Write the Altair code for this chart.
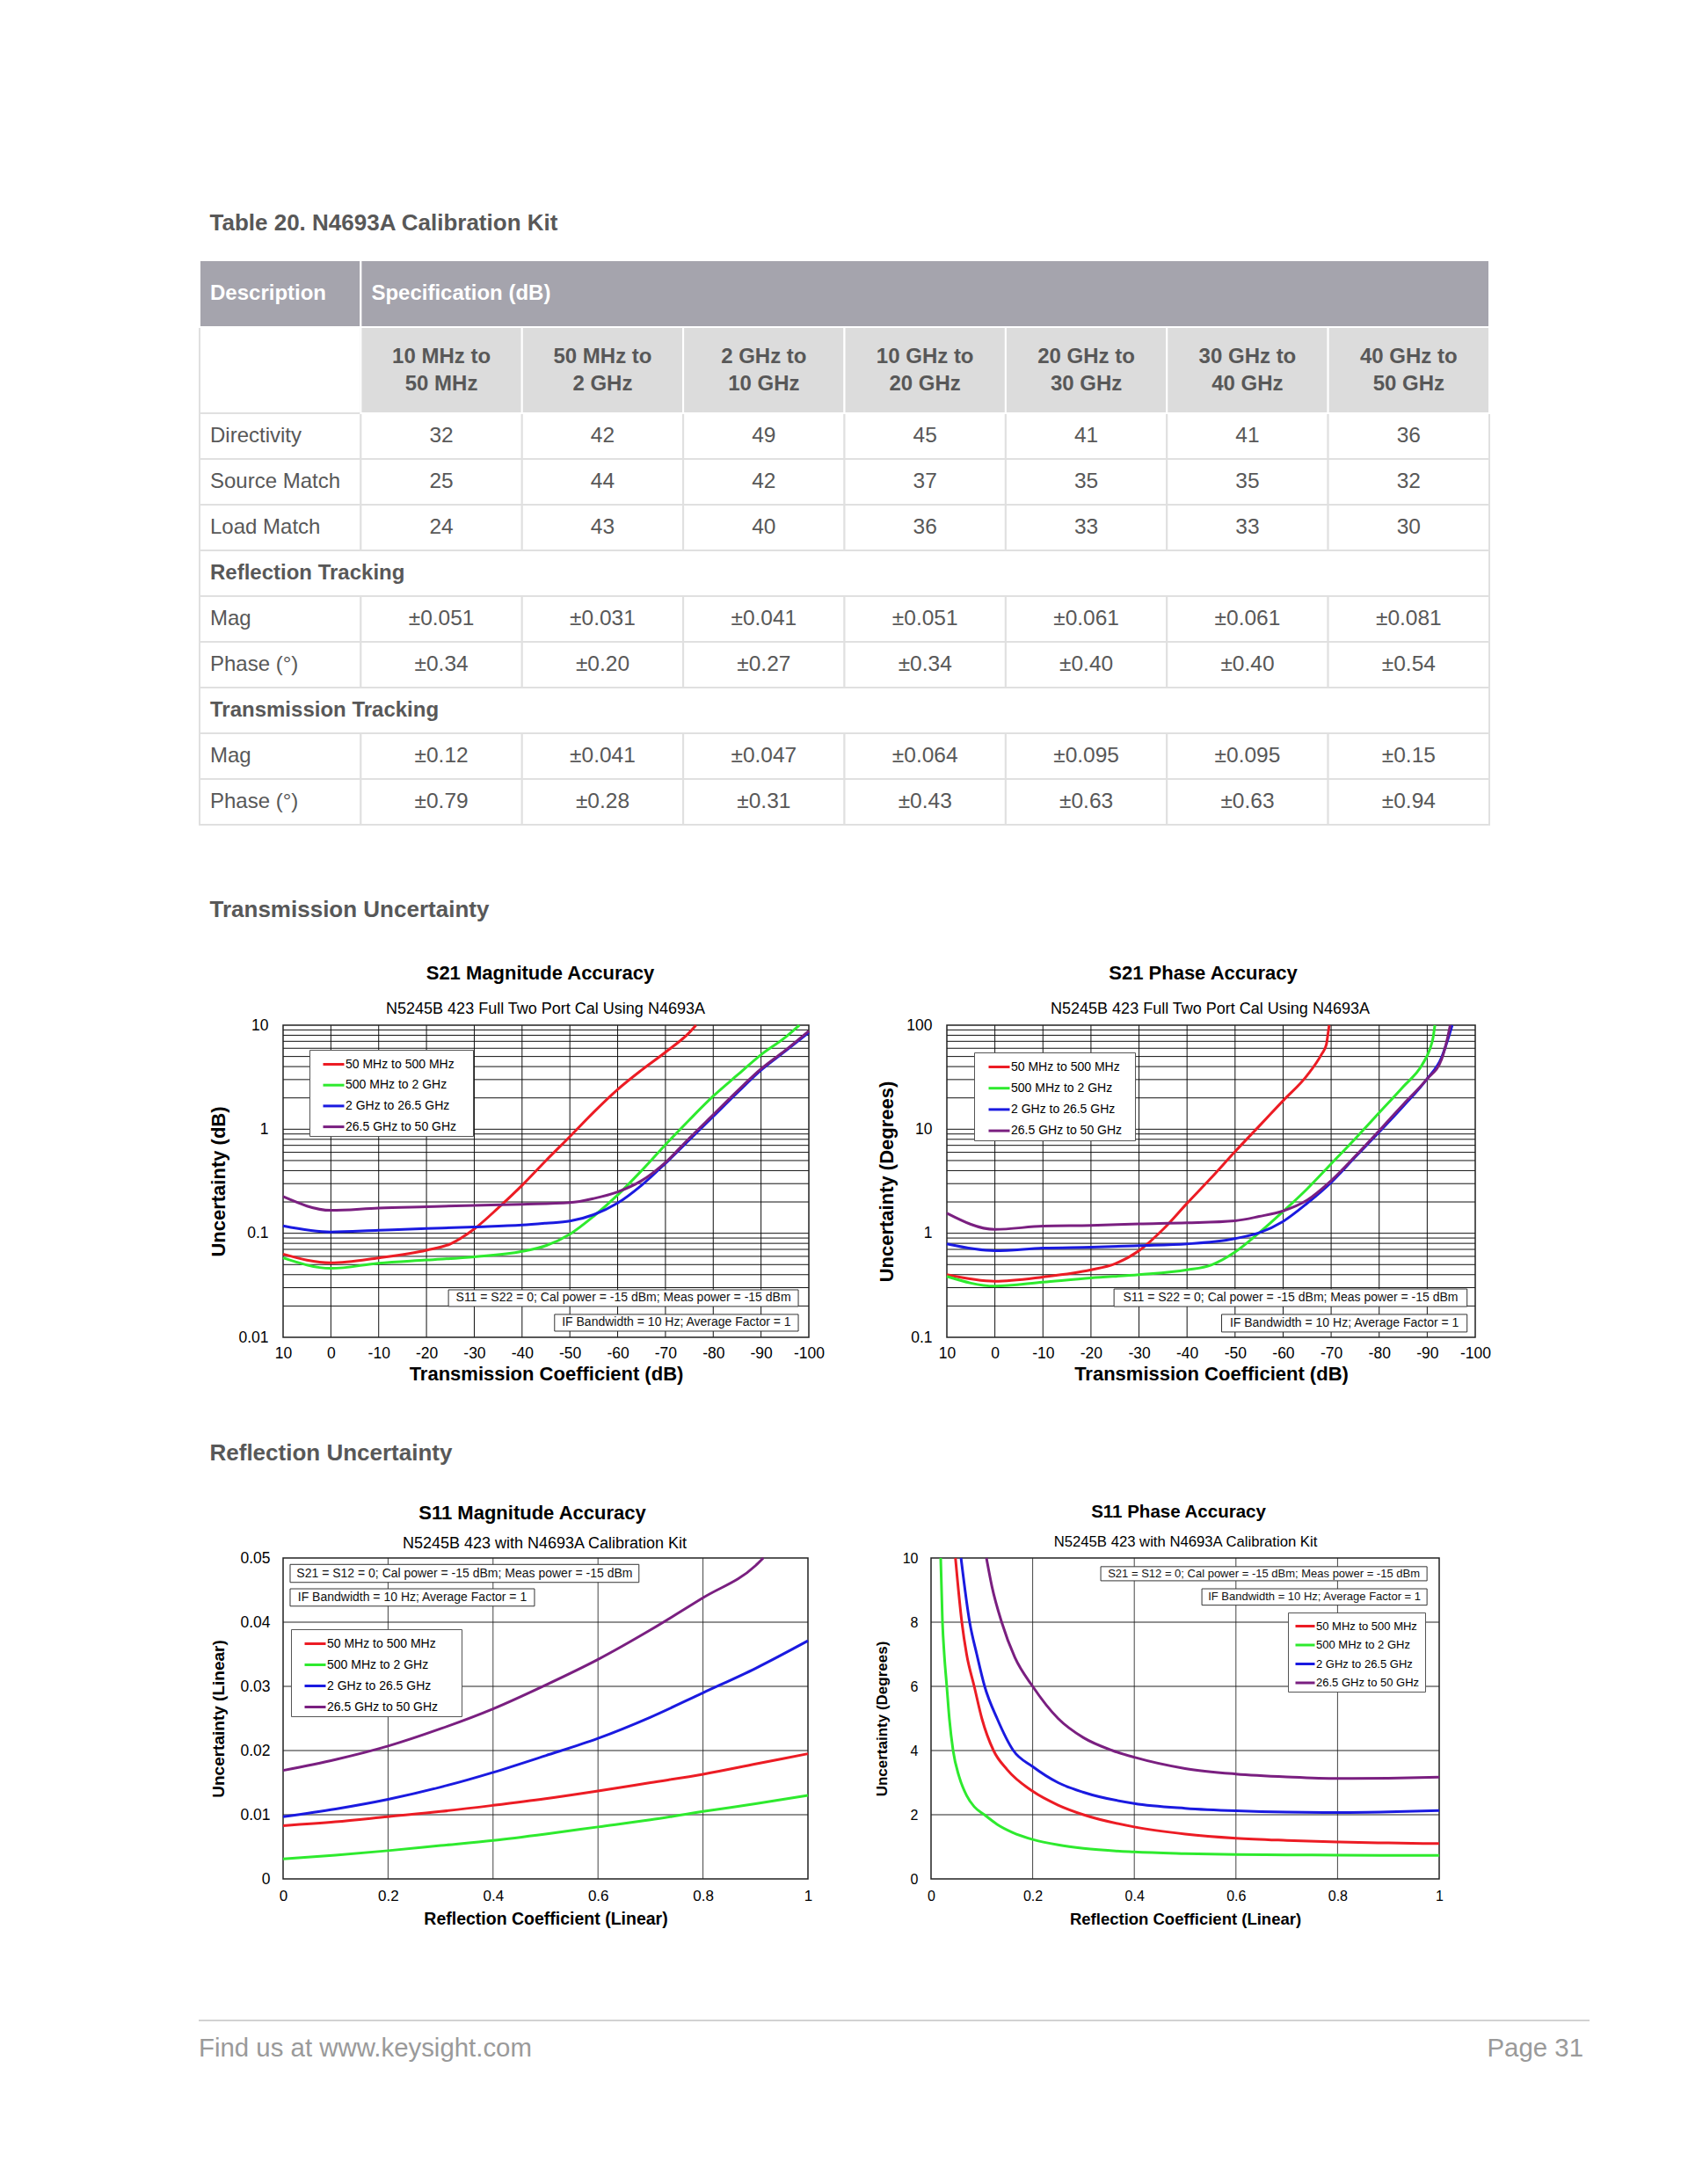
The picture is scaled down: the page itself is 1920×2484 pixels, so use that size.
import math
import altair as alt
import pandas as pd

W, H = 1904, 2468
M = 8


def px(v):
    return v - M


SANS = "Liberation Sans, Arial, Helvetica, sans-serif"
GREY_TXT = "#585858"

# ---------------------------------------------------------------- table data
table_title = "Table 20. N4693A Calibration Kit"
head_labels = ["Description", "Specification (dB)"]
band_labels = ["10 MHz to\n50 MHz", "50 MHz to\n2 GHz", "2 GHz to\n10 GHz", "10 GHz to\n20 GHz",
               "20 GHz to\n30 GHz", "30 GHz to\n40 GHz", "40 GHz to\n50 GHz"]
row_labels = ["Directivity", "Source Match", "Load Match", "Reflection Tracking", "Mag", "Phase (°)",
              "Transmission Tracking", "Mag", "Phase (°)"]
section_rows = ["Reflection Tracking", "Transmission Tracking"]
directivity = ["32", "42", "49", "45", "41", "41", "36"]
source_match = ["25", "44", "42", "37", "35", "35", "32"]
load_match = ["24", "43", "40", "36", "33", "33", "30"]
refl_mag = ["±0.051", "±0.031", "±0.041", "±0.051", "±0.061", "±0.061", "±0.081"]
refl_phase = ["±0.34", "±0.20", "±0.27", "±0.34", "±0.40", "±0.40", "±0.54"]
trans_mag = ["±0.12", "±0.041", "±0.047", "±0.064", "±0.095", "±0.095", "±0.15"]
trans_phase = ["±0.79", "±0.28", "±0.31", "±0.43", "±0.63", "±0.63", "±0.94"]
row_values = [directivity, source_match, load_match, None, refl_mag, refl_phase, None, trans_mag, trans_phase]

# ---------------------------------------------------------------- chart data
SERIES = ["50 MHz to 500 MHz", "500 MHz to 2 GHz", "2 GHz to 26.5 GHz", "26.5 GHz to 50 GHz"]
COLORS = ["#ec1c24", "#2eea2e", "#1a1ae0", "#7a1f80"]

# S21 magnitude accuracy (x: dB, y: dB uncertainty)
s21m_red_x = [10, 0, -10, -20, -25, -30, -35, -40, -45, -50, -55, -60, -65, -70, -75, -76.4]
s21m_red_y = [0.063, 0.052, 0.058, 0.0686, 0.079, 0.11, 0.175, 0.289, 0.50, 0.85, 1.46, 2.41, 3.7, 5.5, 8.5, 10]
s21m_grn_x = [10, 0, -10, -20, -30, -40, -45, -50, -55, -60, -65, -70, -75, -80, -85, -90, -95, -98]
s21m_grn_y = [0.058, 0.046, 0.0515, 0.0553, 0.0594, 0.067, 0.076, 0.098, 0.146, 0.233, 0.40, 0.71, 1.23,
              2.08, 3.3, 5.2, 7.6, 10]
s21m_blu_x = [10, 0, -10, -20, -30, -40, -45, -50, -55, -60, -65, -70, -75, -80, -85, -90, -95, -100]
s21m_blu_y = [0.118, 0.103, 0.107, 0.111, 0.115, 0.120, 0.125, 0.131, 0.151, 0.195, 0.289, 0.47, 0.79,
              1.33, 2.24, 3.7, 5.6, 8.5]
s21m_pur_x = [10, 0, -10, -20, -30, -40, -50, -55, -60, -65, -70, -75, -80, -85, -90, -95, -100]
s21m_pur_y = [0.225, 0.166, 0.175, 0.18, 0.185, 0.19, 0.197, 0.216, 0.25, 0.32, 0.48, 0.82, 1.38, 2.32,
              3.8, 5.7, 8.8]

# S21 phase accuracy (x: dB, y: degrees)
s21p_red_x = [10, 0, -10, -20, -25, -30, -35, -40, -45, -50, -55, -60, -65, -68, -69, -69.3, -69.6]
s21p_red_y = [0.40, 0.346, 0.38, 0.445, 0.51, 0.68, 1.09, 1.94, 3.4, 6.1, 10.7, 18.8, 32.9, 52.5, 65, 80, 100]
s21p_grn_x = [10, 0, -10, -20, -30, -40, -45, -50, -55, -60, -65, -70, -75, -80, -85, -89, -90.5, -91.2, -91.6]
s21p_grn_y = [0.385, 0.31, 0.339, 0.372, 0.40, 0.445, 0.495, 0.66, 1.01, 1.62, 2.67, 4.65, 8.1, 14.4,
              25.6, 42, 58, 75, 100]
s21p_blu_x = [10, 0, -10, -20, -30, -40, -50, -55, -60, -65, -70, -75, -80, -85, -90, -93, -94.5, -95.2]
s21p_blu_y = [0.79, 0.68, 0.72, 0.735, 0.76, 0.79, 0.89, 1.01, 1.30, 1.94, 3.08, 5.4, 9.4, 16.6, 30.6,
              49, 78, 100]
s21p_pur_x = [10, 0, -10, -20, -30, -40, -50, -55, -60, -65, -70, -75, -80, -85, -90, -93, -94.3, -94.8]
s21p_pur_y = [1.56, 1.09, 1.17, 1.19, 1.23, 1.26, 1.32, 1.45, 1.64, 2.08, 3.2, 5.5, 9.7, 17.3, 30.6, 47,
              78, 100]

# S11 magnitude accuracy (x: linear reflection coefficient, y: linear uncertainty)
s11m_x = [0, 0.1, 0.2, 0.3, 0.4, 0.5, 0.6, 0.7, 0.8, 0.9, 1.0]
s11m_red_y = [0.0083, 0.0089, 0.0097, 0.0105, 0.01146, 0.0125, 0.0137, 0.0150, 0.0163, 0.0179, 0.0195]
s11m_grn_y = [0.0031, 0.0037, 0.0044, 0.0052, 0.0060, 0.0070, 0.0081, 0.0092, 0.0105, 0.0117, 0.0130]
s11m_blu_y = [0.0097, 0.0109, 0.0124, 0.0143, 0.0166, 0.0192, 0.0219, 0.0252, 0.0290, 0.0328, 0.0371]
s11m_pur_x = [0, 0.1, 0.2, 0.3, 0.4, 0.5, 0.6, 0.7, 0.8, 0.9, 0.915]
s11m_pur_y = [0.0169, 0.0186, 0.0207, 0.0234, 0.0265, 0.0302, 0.0342, 0.0388, 0.0438, 0.0488, 0.05]

# S11 phase accuracy (x: linear reflection coefficient, y: degrees)
s11p_red_x = [0.048, 0.0606, 0.07, 0.085, 0.1, 0.123, 0.15, 0.2, 0.25, 0.3, 0.4, 0.5, 0.6, 0.7, 0.8, 0.9, 1.0]
s11p_red_y = [10, 8, 7, 6, 5.0, 4, 3.4, 2.73, 2.3, 2.0, 1.62, 1.4, 1.27, 1.2, 1.15, 1.12, 1.10]
s11p_grn_x = [0.019, 0.0225, 0.026, 0.031, 0.036, 0.0434, 0.055, 0.07, 0.085, 0.105, 0.13, 0.16, 0.2, 0.25,
              0.3, 0.4, 0.5, 0.6, 0.7, 0.8, 0.9, 1.0]
s11p_grn_y = [10, 8, 7, 6, 5, 4, 3.2, 2.6, 2.25, 2.0, 1.7, 1.45, 1.23, 1.06, 0.95, 0.84, 0.79, 0.76, 0.75,
              0.74, 0.73, 0.73]
s11p_blu_x = [0.059, 0.076, 0.09, 0.1055, 0.13, 0.162, 0.2, 0.25, 0.3, 0.4, 0.5, 0.6, 0.7, 0.8, 0.9, 1.0]
s11p_blu_y = [10, 8, 7, 6, 5, 4, 3.5, 3.0, 2.7, 2.35, 2.2, 2.12, 2.08, 2.07, 2.09, 2.13]
s11p_pur_x = [0.109, 0.12, 0.139, 0.165, 0.2, 0.25, 0.3, 0.357, 0.4, 0.5, 0.6, 0.7, 0.8, 0.9, 1.0]
s11p_pur_y = [10, 9.1, 8, 6.9, 6, 5.0, 4.4, 4.0, 3.79, 3.44, 3.27, 3.18, 3.13, 3.14, 3.17]

S21_NOTE1 = "S11 = S22 = 0; Cal power = -15 dBm; Meas power = -15 dBm"
S11_NOTE1 = "S21 = S12 = 0; Cal power = -15 dBm; Meas power = -15 dBm"
NOTE2 = "IF Bandwidth = 10 Hz; Average Factor = 1"

s21_xticks = [10, 0, -10, -20, -30, -40, -50, -60, -70, -80, -90, -100]
s21_vgrid = [0, -10, -20, -30, -40, -50, -60, -70, -80, -90]
s21m_yticks = [0.01, 0.1, 1, 10]
s21m_hgrid = [0.02, 0.03, 0.04, 0.05, 0.06, 0.07, 0.08, 0.09, 0.1, 0.2, 0.3, 0.4, 0.5, 0.6, 0.7, 0.8, 0.9,
              1, 2, 3, 4, 5, 6, 7, 8, 9]
s21p_yticks = [0.1, 1, 10, 100]
s21p_hgrid = [0.2, 0.3, 0.4, 0.5, 0.6, 0.7, 0.8, 0.9, 1, 2, 3, 4, 5, 6, 7, 8, 9, 10, 20, 30, 40, 50, 60,
              70, 80, 90]
s11_xticks = [0, 0.2, 0.4, 0.6, 0.8, 1]
s11_vgrid = [0.2, 0.4, 0.6, 0.8]
s11m_yticks = [0, 0.01, 0.02, 0.03, 0.04, 0.05]
s11m_hgrid = [0.01, 0.02, 0.03, 0.04]
s11p_yticks = [0, 2, 4, 6, 8, 10]
s11p_hgrid = [2, 4, 6, 8]


def lines_df(xs_list, ys_list):
    rows = []
    for name, xs_, ys_ in zip(SERIES, xs_list, ys_list):
        for a, b in zip(xs_, ys_):
            rows.append({"series": name, "x": a, "y": b})
    return pd.DataFrame(rows)


def text_axis(text, y, size, weight="normal", color="#000000", font=SANS, x=None, align="center"):
    kw = dict(orient="top", offset=0, labels=False, ticks=False, domain=False, grid=False,
              title=text, titleFont=font, titleFontSize=size, titleFontWeight=weight,
              titleColor=color, titleY=px(y), titleBaseline="middle", titleAlign=align, titlePadding=0)
    if x is not None:
        kw["titleX"] = px(x)
    return alt.Axis(**kw)


def panel(p):
    xs = alt.Scale(type=p["xtype"], domain=p["xdom"], range=[px(p["left"]), px(p["right"])],
                   nice=False, zero=False)
    ys = alt.Scale(type=p["ytype"], domain=p["ydom"], range=[px(p["bottom"]), px(p["top"])],
                   nice=False, zero=False)
    bottom_axis = alt.Axis(
        orient="bottom", offset=px(p["bottom"]) - H, values=p["xticks"], labelExpr="toString(datum.value)",
        grid=False, ticks=False, tickSize=0, domain=False, labelFlush=False, labelOverlap=False,
        labelFont=SANS, labelFontSize=p["lab"], labelColor="#000000", labelPadding=p["xlp"],
        title=p["xtitle"], titleFont=SANS, titleFontSize=p["tit"], titleFontWeight="bold",
        titleColor="#000000", titlePadding=p["xtp"])
    left_axis = alt.Axis(
        orient="left", offset=-px(p["left"]), values=p["yticks"], labelExpr="toString(datum.value)",
        grid=False, ticks=False, tickSize=0, domain=False, labelFlush=False, labelOverlap=False,
        labelFont=SANS, labelFontSize=p["ylab"], labelColor="#000000", labelPadding=p["ylp"],
        title=p["ytitle"], titleFont=SANS, titleFontSize=p["ytit"], titleFontWeight="bold",
        titleColor="#000000", titlePadding=p["ytp"])

    vg = pd.DataFrame({"x": p["vgrid"]})
    vg["y0"] = p["ydom"][0]
    vg["y1"] = p["ydom"][1]
    vgrid = alt.Chart(vg).mark_rule(color=p["vcolor"], strokeWidth=1).encode(
        x=alt.X("x:Q", scale=xs, axis=bottom_axis),
        y=alt.Y("y0:Q", scale=ys, axis=None),
        y2=alt.Y2("y1"))

    hg = pd.DataFrame({"y": p["hgrid"]})
    hg["x0"] = p["xdom"][0]
    hg["x1"] = p["xdom"][1]
    hgrid = alt.Chart(hg).mark_rule(color=p["hcolor"], strokeWidth=1).encode(
        y=alt.Y("y:Q", scale=ys, axis=left_axis),
        x=alt.X("x0:Q", scale=xs, axis=text_axis(p["title"], p["title_y"], p["title_size"], "bold",
                                                  x=p["title_x"])),
        x2=alt.X2("x1"))

    bd = pd.DataFrame({"x0": [p["xdom"][0]], "x1": [p["xdom"][1]],
                       "y0": [p["ydom"][0]], "y1": [p["ydom"][1]]})
    border = alt.Chart(bd).mark_rect(fillOpacity=0, stroke="#222222", strokeWidth=1.5).encode(
        x=alt.X("x0:Q", scale=xs, axis=text_axis(p["subtitle"], p["subtitle_y"], p["subtitle_size"],
                                                  x=p["subtitle_x"])),
        x2=alt.X2("x1"),
        y=alt.Y("y0:Q", scale=ys, axis=None),
        y2=alt.Y2("y1"))

    ann = pd.DataFrame(p["notes"], columns=["t", "x0", "x1", "y0", "y1"])
    ann["xc"] = (ann["x0"] + ann["x1"]) / 2
    if p["ytype"] == "log":
        ann["yc"] = [math.sqrt(a * b) for a, b in zip(ann["y0"], ann["y1"])]
    else:
        ann["yc"] = (ann["y0"] + ann["y1"]) / 2
    ann_rect = alt.Chart(ann).mark_rect(fill="white", stroke="#333333", strokeWidth=1).encode(
        x=alt.X("x0:Q", scale=xs, axis=None), x2=alt.X2("x1"),
        y=alt.Y("y0:Q", scale=ys, axis=None), y2=alt.Y2("y1"))
    ann_text = alt.Chart(ann).mark_text(font=SANS, fontSize=p["note_size"], color="#111111",
                                        align="center", baseline="middle").encode(
        x=alt.X("xc:Q", scale=xs, axis=None), y=alt.Y("yc:Q", scale=ys, axis=None), text="t:N")

    # trailing no-break spaces (closed by a zero-width space so they survive trimming) widen the box
    pad = "\u00a0" * p["lnb"] + "\u200b"
    legend = alt.Legend(orient="none", legendX=px(p["lx"]), legendY=px(p["ly"]), title=None,
                        symbolType="stroke", symbolStrokeWidth=3, symbolSize=p["lsym"],
                        symbolOffset=p["loff"], labelOffset=0, padding=3,
                        labelFont=SANS, labelFontSize=p["lfs"], labelColor="#000000", labelLimit=400,
                        labelExpr="datum.label + '" + pad + "'",
                        rowPadding=p["lrow"], strokeColor="#555555", fillColor="white")
    if p.get("heading"):
        head_axis = text_axis(p["heading"], p["heading_y"], 26, "bold", GREY_TXT, SANS,
                              x=238, align="left")
    else:
        head_axis = None
    lines = alt.Chart(lines_df(p["sx"], p["sy"])).mark_line(strokeWidth=3, interpolate="monotone").encode(
        x=alt.X("x:Q", scale=xs, axis=head_axis),
        y=alt.Y("y:Q", scale=ys, axis=None),
        color=alt.Color("series:N", scale=alt.Scale(domain=SERIES, range=COLORS), legend=legend))
    return [vgrid, hgrid, border, lines, ann_rect, ann_text]


s21_common = dict(xtype="linear", xdom=[10, -100], ytype="log", xticks=s21_xticks, vgrid=s21_vgrid,
                  vcolor="#111111", hcolor="#111111", xtitle="Transmission Coefficient (dB)",
                  lab=17.5, ylab=17.5, tit=22, ytit=22, xlp=9, xtp=5, ylp=17, ytp=10, title_y=1106,
                  subtitle_y=1147, title_size=22, subtitle_size=18, top=1166, bottom=1521, note_size=14,
                  lsym=576, lfs=14, lrow=2.7)
s11_common = dict(xtype="linear", xdom=[0, 1], ytype="linear", xticks=s11_xticks, vgrid=s11_vgrid,
                  vcolor="#444444", hcolor="#222222", xtitle="Reflection Coefficient (Linear)",
                  xlp=11, xtp=9, ylp=15, ytp=14, top=1772, bottom=2137)

p_s21m = dict(s21_common, left=322, right=920, ydom=[0.01, 10], yticks=s21m_yticks, hgrid=s21m_hgrid,
              ytitle="Uncertainty (dB)", title="S21 Magnitude Accuracy", title_x=614, subtitle_x=620,
              subtitle="N5245B 423 Full Two Port Cal Using N4693A",
              sx=[s21m_red_x, s21m_grn_x, s21m_blu_x, s21m_pur_x],
              sy=[s21m_red_y, s21m_grn_y, s21m_blu_y, s21m_pur_y],
              notes=[(S21_NOTE1, -24.6, -97.8, 0.0198, 0.0286), (NOTE2, -46.8, -97.8, 0.01146, 0.0166)],
              lx=352, ly=1194, loff=11, lnb=4, heading="Transmission Uncertainty", heading_y=1034)
p_s21p = dict(s21_common, left=1077, right=1678, ydom=[0.1, 100], yticks=s21p_yticks, hgrid=s21p_hgrid,
              ytitle="Uncertainty (Degrees)", title="S21 Phase Accuracy", title_x=1368, subtitle_x=1376,
              subtitle="N5245B 423 Full Two Port Cal Using N4693A",
              sx=[s21p_red_x, s21p_grn_x, s21p_blu_x, s21p_pur_x],
              sy=[s21p_red_y, s21p_grn_y, s21p_blu_y, s21p_pur_y],
              notes=[(S21_NOTE1, -24.8, -98.3, 0.1975, 0.2915), (NOTE2, -47.2, -98.3, 0.1125, 0.166)],
              lx=1108, ly=1197, loff=12, lnb=3, lrow=3.2)
p_s11m = dict(s11_common, left=322, right=919, ydom=[0, 0.05], yticks=s11m_yticks, hgrid=s11m_hgrid,
              ytitle="Uncertainty (Linear)", title="S11 Magnitude Accuracy", title_x=605, title_y=1720,
              title_size=22, subtitle="N5245B 423 with N4693A Calibration Kit", subtitle_x=619,
              subtitle_y=1755, subtitle_size=18, note_size=14, lfs=14, tit=19.5, ytit=19, lab=17, ylab=17.5,
              sx=[s11m_x, s11m_x, s11m_x, s11m_pur_x],
              sy=[s11m_red_y, s11m_grn_y, s11m_blu_y, s11m_pur_y],
              notes=[(S11_NOTE1, 0.0134, 0.678, 0.0462, 0.0490), (NOTE2, 0.0134, 0.479, 0.0425, 0.0452)],
              lx=331, ly=1853, loff=11, lnb=6, lsym=576, lrow=3,
              heading="Reflection Uncertainty", heading_y=1652)
p_s11p = dict(s11_common, left=1059, right=1637, ydom=[0, 10], yticks=s11p_yticks, hgrid=s11p_hgrid,
              ytitle="Uncertainty (Degrees)", title="S11 Phase Accuracy", title_x=1340, title_y=1719,
              title_size=20.5, subtitle="N5245B 423 with N4693A Calibration Kit", subtitle_x=1348,
              subtitle_y=1753, subtitle_size=16.7, note_size=13, lfs=13, tit=18.5, ytit=17, lab=16, ylab=16,
              sx=[s11p_red_x, s11p_grn_x, s11p_blu_x, s11p_pur_x],
              sy=[s11p_red_y, s11p_grn_y, s11p_blu_y, s11p_pur_y],
              notes=[(S11_NOTE1, 0.334, 0.976, 9.29, 9.73), (NOTE2, 0.533, 0.976, 8.53, 9.04)],
              lx=1465, ly=1834, loff=4, lnb=1, lsym=484, lrow=1.5)

# ---------------------------------------------------------------- table layers
tx = alt.Scale(type="linear", domain=[0, 8], range=[px(227), px(1694)], nice=False, zero=False)
ty = alt.Scale(type="linear", domain=[0, 1, 2, 11], range=[px(296), px(372), px(470), px(938)],
               nice=False, zero=False)
HEAD_FILL = "#a5a4ad"
SUB_FILL = "#dcdcdc"
LINE = "#e0e0e0"
TFS = 24

body_cells, body_text, label_text, section_text = [], [], [], []
for r, lab in enumerate(row_labels):
    y0 = 2 + r
    if lab in section_rows:
        body_cells.append({"x0": 0, "x1": 8, "y0": y0, "y1": y0 + 1})
        section_text.append({"c": 0, "r": y0 + 0.5, "t": lab})
    else:
        label_text.append({"c": 0, "r": y0 + 0.5, "t": lab})
        for c in range(8):
            body_cells.append({"x0": c, "x1": c + 1, "y0": y0, "y1": y0 + 1})
        for c, v in enumerate(row_values[r]):
            body_text.append({"c": c + 1.5, "r": y0 + 0.5, "t": v})
body_cells.append({"x0": 0, "x1": 1, "y0": 1, "y1": 2})
sub_cells = pd.DataFrame({"x0": list(range(1, 8)), "x1": list(range(2, 9)), "y0": 1, "y1": 2})
head_cells = pd.DataFrame({"x0": [0, 1], "x1": [1, 8], "y0": 0, "y1": 1})
sub_text = pd.DataFrame({"c": [c + 1.5 for c in range(7)], "r": 1.5, "t": band_labels})
head_text = pd.DataFrame({"c": [0, 1], "r": 0.5, "t": head_labels})


def cell_layer(df, fill, stroke, axis=None):
    return alt.Chart(pd.DataFrame(df)).mark_rect(fill=fill, stroke=stroke, strokeWidth=2).encode(
        x=alt.X("x0:Q", scale=tx, axis=axis), x2=alt.X2("x1"),
        y=alt.Y("y0:Q", scale=ty, axis=None), y2=alt.Y2("y1"))


def table_text(df, align, weight, color, dx=0, dy=0, size=TFS, **kw):
    return alt.Chart(pd.DataFrame(df)).mark_text(align=align, baseline="middle", dx=dx, dy=dy, font=SANS,
                                                 fontSize=size, fontWeight=weight, color=color, **kw).encode(
        x=alt.X("c:Q", scale=tx, axis=None), y=alt.Y("r:Q", scale=ty, axis=None), text="t:N")


table_layers = [
    cell_layer(body_cells, "white", LINE,
               axis=text_axis(table_title, 253, 26, "bold", GREY_TXT, SANS, x=238, align="left")),
    cell_layer(sub_cells, SUB_FILL, "white"),
    cell_layer(head_cells, HEAD_FILL, "white"),
    table_text(head_text, "left", "bold", "white", dx=12),
    table_text(sub_text, "center", "bold", GREY_TXT, dy=-15.5, lineBreak="\n", lineHeight=31),
    table_text(label_text, "left", "normal", GREY_TXT, dx=12),
    table_text(section_text, "left", "bold", GREY_TXT, dx=12),
    table_text(body_text, "center", "normal", GREY_TXT, size=24.5),
]

# ---------------------------------------------------------------- footer
footer_left = "Find us at www.keysight.com"
footer_right = "Page 31"
fx = alt.Scale(type="linear", domain=[0, 1], range=[px(226), px(1808)], nice=False, zero=False)
fy = alt.Scale(type="linear", domain=[0, 1], range=[px(2298), px(2330)], nice=False, zero=False)
foot_rule = alt.Chart(pd.DataFrame({"x0": [0], "x1": [1], "y": [0]})).mark_rule(
    color="#d2d2d2", strokeWidth=2).encode(
    x=alt.X("x0:Q", scale=fx, axis=None), x2=alt.X2("x1"), y=alt.Y("y:Q", scale=fy, axis=None))
foot_l = alt.Chart(pd.DataFrame({"x": [0], "y": [1], "t": [footer_left]})).mark_text(
    align="left", baseline="middle", font=SANS, fontSize=29.4, color="#9a9a9a").encode(
    x=alt.X("x:Q", scale=fx, axis=None), y=alt.Y("y:Q", scale=fy, axis=None), text="t:N")
foot_r = alt.Chart(pd.DataFrame({"x": [1], "y": [1], "t": [footer_right]})).mark_text(
    align="right", baseline="middle", dx=-7, font=SANS, fontSize=29.4, color="#9a9a9a").encode(
    x=alt.X("x:Q", scale=fx, axis=None), y=alt.Y("y:Q", scale=fy, axis=None), text="t:N")

layers = table_layers + panel(p_s21m) + panel(p_s21p) + panel(p_s11m) + panel(p_s11p) + [foot_rule, foot_l, foot_r]

chart = (
    alt.layer(*layers)
    .properties(width=W, height=H, padding=0, background="white")
    .resolve_scale(x="independent", y="independent", color="independent")
    .resolve_axis(x="independent", y="independent")
    .resolve_legend(color="independent")
    .configure_view(stroke=None)
)

chart.save("out.html", embed_options={"renderer": "svg", "actions": False})
